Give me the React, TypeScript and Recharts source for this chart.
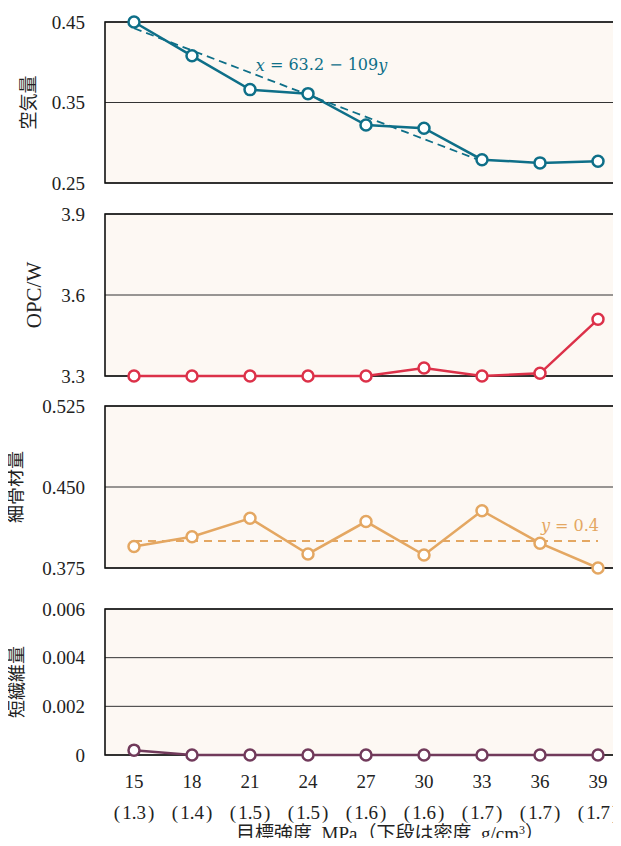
import React from "react";
import {
  LineChart,
  Line,
  XAxis,
  YAxis,
  CartesianGrid,
  ReferenceArea,
  ReferenceDot,
} from "recharts";

// target strength (MPa) and the matching density (g/cm3)
const strength = [15, 18, 21, 24, 27, 30, 33, 36, 39];
const density = ["1.3", "1.4", "1.5", "1.5", "1.6", "1.6", "1.7", "1.7", "1.7"];

// mix proportions per strength level
const airContent = [0.45, 0.408, 0.366, 0.361, 0.322, 0.318, 0.279, 0.275, 0.277];
const opcPerWater = [3.3, 3.3, 3.3, 3.3, 3.3, 3.33, 3.3, 3.31, 3.51];
const fineAggregate = [0.395, 0.404, 0.421, 0.388, 0.418, 0.387, 0.428, 0.398, 0.375];
const shortFiber = [0.0002, 0, 0, 0, 0, 0, 0, 0, 0];

// fit for air content: x = 63.2 - 109y, drawn over 15..33 MPa
const airFitA = 63.2;
const airFitB = 109;
const airFitRange = [15, 33];

// reference level for fine aggregate
const fineRefLevel = 0.4;
const fineRefRange = [15, 39];

const airTicks = [0.25, 0.35, 0.45];
const opcTicks = [3.3, 3.6, 3.9];
const fineTicks = [0.375, 0.45, 0.525];
const fiberTicks = [0, 0.002, 0.004, 0.006];

const X_DOMAIN: [number, number] = [13.5, 40.5];

const SERIF = "'Liberation Serif', 'Times New Roman', serif";
const CJK = "'Noto Sans CJK JP', 'Noto Sans', sans-serif";
const MIXED = "'Liberation Serif', 'Noto Sans CJK JP', serif";
const MATH = "'DejaVu Serif', serif";
const PANEL_BG = "#fdf8f3";
const INK = "#222";

const TEAL = "#0e6f88";
const RED = "#dc3149";
const ORANGE = "#e4a762";
const PURPLE = "#713a5b";

const CHART_W = 640;
const PAD = 14;
const X_AXIS_H = 92;

const rows = (values: number[]) =>
  strength.map((s, i) => ({ strength: s, value: values[i] }));

const airFit = airFitRange.map((s) => ({
  strength: s,
  fit: (airFitA - s) / airFitB,
}));

const fineRef = fineRefRange.map((s) => ({ strength: s, ref: fineRefLevel }));

const yTitle =
  (text: string, cx: number, family: string, size: number) =>
  (props: any) => {
    const vb = props.viewBox;
    const cy = vb.y + vb.height / 2;
    return (
      <text
        transform={`translate(${cx}, ${cy}) rotate(-90)`}
        textAnchor="middle"
        dominantBaseline="central"
        fontFamily={family}
        fontSize={size}
        fill={INK}
      >
        {text}
      </text>
    );
  };

const valueTick = (format: (v: number) => string) => (props: any) => {
  const { x, y, payload } = props;
  return (
    <text x={x} y={y + 6.5} textAnchor="end" fontFamily={SERIF} fontSize={19} fill={INK}>
      {format(payload.value)}
    </text>
  );
};

const StrengthTick = (props: any) => {
  const { x, y, index, payload } = props;
  return (
    <g>
      <text x={x} y={y + 31} textAnchor="middle" fontFamily={SERIF} fontSize={19} fill={INK}>
        {payload.value}
      </text>
      <text x={x} y={y + 62} textAnchor="middle" fontFamily={SERIF} fontSize={19} fill={INK}>
        <tspan>(</tspan>
        <tspan dx={2}>{density[index]}</tspan>
        <tspan dx={2}>)</tspan>
      </text>
    </g>
  );
};

// x title, placed under the two rows of tick labels (svg coordinates)
const xTitle = () => (
  <text x={390} y={PAD + 146 + 85} textAnchor="middle" fontFamily={MIXED} fontSize={19} fill={INK}>
    目標強度, MPa（下段は密度, g/cm<tspan dy={-6} fontSize={12}>3</tspan>
    <tspan dy={6}>）</tspan>
  </text>
);

const airLabel = (props: any) => {
  const { x, y } = props.viewBox;
  return (
    <text x={x} y={y} textAnchor="middle" dominantBaseline="central" fontFamily={MATH} fontSize={16} fill={TEAL}>
      <tspan fontStyle="italic">x</tspan>
      {" = 63.2 − 109"}
      <tspan fontStyle="italic">y</tspan>
    </text>
  );
};

const fineLabel = (props: any) => {
  const { x, y } = props.viewBox;
  return (
    <text x={x} y={y} textAnchor="end" dominantBaseline="central" fontFamily={MATH} fontSize={16} fill={ORANGE}>
      <tspan fontStyle="italic">y</tspan>
      {" = 0.4"}
    </text>
  );
};

interface PanelProps {
  top: number;
  plotHeight: number;
  data: { strength: number; value: number }[];
  color: string;
  ticks: number[];
  tickFormat: (v: number) => string;
  title: string;
  titleX: number;
  titleFamily: string;
  titleSize: number;
  bottom?: boolean;
  children?: React.ReactNode;
}

function Panel({
  top,
  plotHeight,
  data,
  color,
  ticks,
  tickFormat,
  title,
  titleX,
  titleFamily,
  titleSize,
  bottom,
  children,
}: PanelProps) {
  const axisH = bottom ? X_AXIS_H : 0;
  const height = plotHeight + PAD * 2 + axisH;
  const domain: [number, number] = [ticks[0], ticks[ticks.length - 1]];
  return (
    <div style={{ position: "absolute", left: 0, top: top - PAD }}>
      <LineChart
        width={CHART_W}
        height={height}
        data={data}
        margin={{ top: PAD, right: 13, bottom: PAD, left: 0 }}
      >
        <CartesianGrid vertical={false} stroke="#333" strokeWidth={1} fill={PANEL_BG} fillOpacity={1} />
        <XAxis
          type="number"
          dataKey="strength"
          domain={X_DOMAIN}
          ticks={strength}
          hide={!bottom}
          height={axisH}
          axisLine={false}
          tickLine={false}
          tickSize={0}
          tick={<StrengthTick />}
          interval={0}
          label={bottom ? xTitle : undefined}
        />
        <YAxis
          type="number"
          domain={domain}
          ticks={ticks}
          width={105}
          axisLine={false}
          tickLine={false}
          tickSize={0}
          tickMargin={20}
          tick={valueTick(tickFormat)}
          interval={0}
          label={yTitle(title, titleX, titleFamily, titleSize)}
        />
        <ReferenceArea
          x1={X_DOMAIN[0]}
          x2={X_DOMAIN[1]}
          y1={domain[0]}
          y2={domain[1]}
          fill="none"
          fillOpacity={0}
          stroke="#111"
          strokeWidth={1.6}
        />
        {children}
        <Line
          type="linear"
          dataKey="value"
          stroke={color}
          strokeWidth={2.5}
          dot={{ r: 5.5, fill: "#fff", stroke: color, strokeWidth: 2.5 }}
          isAnimationActive={false}
        />
      </LineChart>
    </div>
  );
}

export default function App() {
  return (
    <div
      style={{
        position: "relative",
        width: 621,
        height: 846,
        margin: -8,
        overflow: "hidden",
        background: "#fff",
      }}
    >
      <Panel
        top={22}
        plotHeight={161}
        data={rows(airContent)}
        color={TEAL}
        ticks={airTicks}
        tickFormat={(v) => v.toFixed(2)}
        title="空気量"
        titleX={27}
        titleFamily={CJK}
        titleSize={18}
      >
        <Line
          data={airFit}
          dataKey="fit"
          stroke={TEAL}
          strokeWidth={1.8}
          strokeDasharray="8 5"
          dot={false}
          isAnimationActive={false}
        />
        <ReferenceDot x={24.7} y={0.397} r={0} fill="none" stroke="none" label={airLabel} />
      </Panel>
      <Panel
        top={214}
        plotHeight={162}
        data={rows(opcPerWater)}
        color={RED}
        ticks={opcTicks}
        tickFormat={(v) => v.toFixed(1)}
        title="OPC/W"
        titleX={34}
        titleFamily={SERIF}
        titleSize={21}
      />
      <Panel
        top={406}
        plotHeight={162}
        data={rows(fineAggregate)}
        color={ORANGE}
        ticks={fineTicks}
        tickFormat={(v) => v.toFixed(3)}
        title="細骨材量"
        titleX={14}
        titleFamily={CJK}
        titleSize={18}
      >
        <Line
          data={fineRef}
          dataKey="ref"
          stroke={ORANGE}
          strokeWidth={1.8}
          strokeDasharray="8 6"
          dot={false}
          isAnimationActive={false}
        />
        <ReferenceDot x={39.05} y={0.4146} r={0} fill="none" stroke="none" label={fineLabel} />
      </Panel>
      <Panel
        top={609}
        plotHeight={146}
        data={rows(shortFiber)}
        color={PURPLE}
        ticks={fiberTicks}
        tickFormat={(v) => (v === 0 ? "0" : v.toFixed(3))}
        title="短繊維量"
        titleX={15}
        titleFamily={CJK}
        titleSize={18}
        bottom
      />
    </div>
  );
}
